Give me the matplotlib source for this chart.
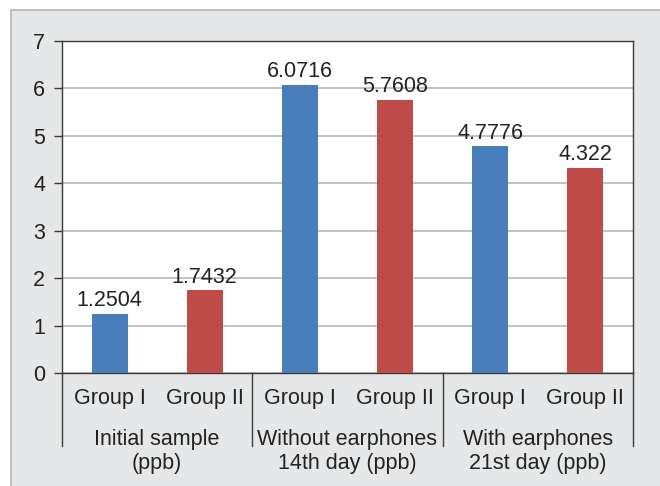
import matplotlib
matplotlib.use("Agg")
import matplotlib.pyplot as plt
from matplotlib.patches import Rectangle
import matplotlib.transforms as mtransforms

plt.rcParams['font.family'] = ['Liberation Sans', 'DejaVu Sans']

groups = ["Group I", "Group II", "Group I", "Group II", "Group I", "Group II"]
values = [1.2504, 1.7432, 6.0716, 5.7608, 4.7776, 4.322]
value_labels = ["1.2504", "1.7432", "6.0716", "5.7608", "4.7776", "4.322"]
categories = ["Initial sample\n(ppb)", "Without earphones\n14th day (ppb)", "With earphones\n21st day (ppb)"]
colors = ["#4a7ebb", "#be4b48"] * 3

FS = 15.5
W, H = 660, 486
fig = plt.figure(figsize=(W / 100, H / 100), dpi=100)
fig.patch.set_facecolor("white")
fig.patches.append(Rectangle((11 / W, -0.01), 1, 1 - 10 / H + 0.01, transform=fig.transFigure,
                             facecolor="#e6e7e8", edgecolor="#b4b4b4", linewidth=1.2, zorder=-5))

ax = fig.add_axes([62 / W, 113 / H, 571 / W, 332 / H])
ax.set_zorder(1)
ax.set_facecolor("white")
x = list(range(len(values)))
ax.bar(x, values, width=0.38, color=colors, zorder=3)
for xi, v, lab in zip(x, values, value_labels):
    ax.annotate(lab, (xi, v), xytext=(0, 2), textcoords="offset points",
                ha="center", va="bottom", fontsize=FS, color="#222222")

ax.set_xlim(-0.5, len(values) - 0.5)
ax.set_ylim(0, 7)
ax.set_yticks(range(0, 8))
ax.yaxis.grid(True, color="#bcbcbc", linewidth=1.3, zorder=0)
ax.set_axisbelow(True)
for s in ax.spines.values():
    s.set_color("#3a3a3a")
    s.set_linewidth(1.0)
ax.tick_params(axis="y", length=6, width=1.0, color="#3a3a3a", pad=6, labelsize=FS, labelcolor="#222222")
ax.set_xticks(x)
ax.set_xticklabels(groups)
ax.tick_params(axis="x", length=0, pad=11, labelsize=FS, labelcolor="#222222")

trans = mtransforms.blended_transform_factory(ax.transData, ax.transAxes)
for sx in [-0.5, 1.5, 3.5, 5.5]:
    ax.plot([sx, sx], [0, -0.22], transform=trans, color="#3a3a3a", linewidth=1.0, clip_on=False)
for i, cat in enumerate(categories):
    ax.text(2 * i + 0.5, -0.237, cat, transform=trans, ha="center", va="center",
            fontsize=FS, color="#222222", linespacing=1.15)

fig.savefig("out.png", dpi=100, facecolor=fig.get_facecolor())
